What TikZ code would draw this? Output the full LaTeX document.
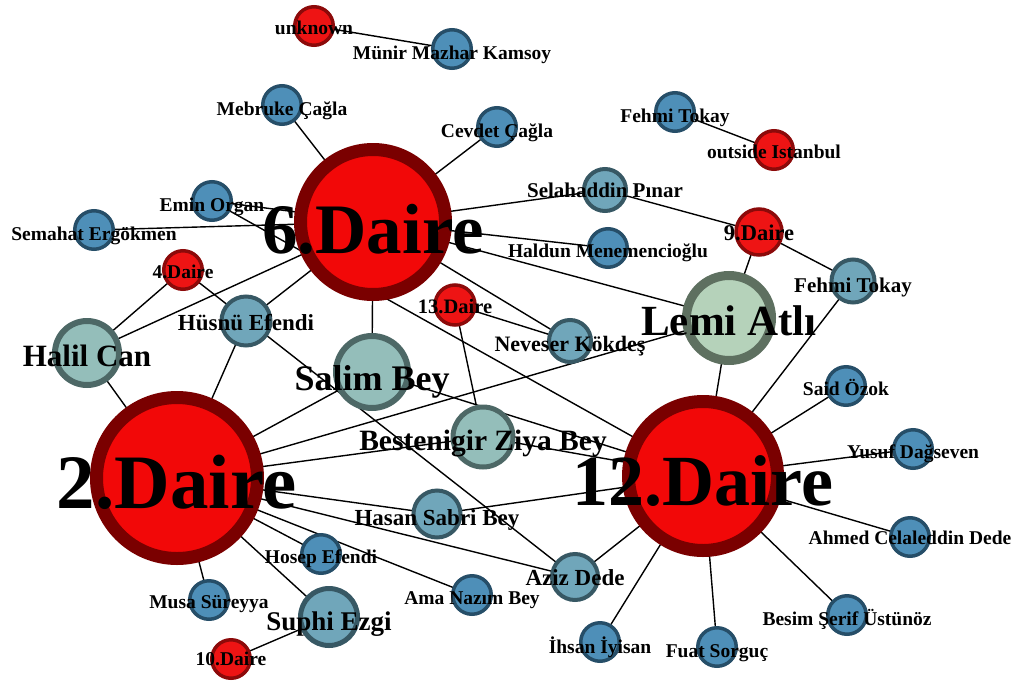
\documentclass[tikz,border=0pt]{standalone}
\usepackage{fontspec}
\setmainfont{Liberation Serif}
\usetikzlibrary{backgrounds}

\definecolor{daireFill}{RGB}{242,8,8}
\definecolor{daireRing}{RGB}{122,0,0}
\definecolor{redFill}{RGB}{238,20,20}
\definecolor{redLine}{RGB}{140,10,10}
\definecolor{blueFill}{RGB}{78,143,184}
\definecolor{blueLine}{RGB}{38,78,104}
\definecolor{tealFill}{RGB}{112,166,186}
\definecolor{tealLine}{RGB}{55,88,100}
\definecolor{paleFill}{RGB}{148,190,186}
\definecolor{paleLine}{RGB}{77,104,102}
\definecolor{lemiFill}{RGB}{181,210,186}
\definecolor{lemiLine}{RGB}{94,112,96}

\tikzset{
  bigdaire/.style={circle, inner sep=0pt, draw=daireRing, fill=daireFill, line width=13pt},
  smalldaire/.style={circle, inner sep=0pt, draw=redLine, fill=redFill, line width=3.5pt, minimum size=38.5pt},
  bluenode/.style={circle, inner sep=0pt, draw=blueLine, fill=blueFill, line width=3.5pt, minimum size=38.5pt},
  tealnode/.style={circle, inner sep=0pt, draw=tealLine, fill=tealFill, line width=4pt},
  palenode/.style={circle, inner sep=0pt, draw=paleLine, fill=paleFill, line width=6pt},
  lbl/.style={anchor=base, inner sep=0pt, font=\bfseries\fontsize{#1}{#1}\selectfont},
  lbl/.default=19.5,
  link/.style={line width=1.4pt, black}
}

\begin{document}
\begin{tikzpicture}[x=1pt, y=-1pt]
\useasboundingbox (0,0) rectangle (1019,680);

% Daire nodes
\node[bigdaire, minimum size=145pt] (d6) at (373,222) {};
\node[bigdaire, minimum size=161pt] (d2) at (177,478) {};
\node[bigdaire, minimum size=149pt] (d12) at (703,476) {};
\node[smalldaire] (unknown) at (314,26) {};
\node[smalldaire] (d4) at (183,270) {};
\node[smalldaire, minimum size=40pt] (d13) at (455,305) {};
\node[smalldaire] (d10) at (231,659) {};
\node[smalldaire] (outside) at (774,150) {};
\node[smalldaire, minimum size=46pt] (d9) at (759,232) {};

% larger persons
\node[circle, inner sep=0pt, draw=lemiLine, fill=lemiFill, line width=9pt, minimum size=85pt] (lemi) at (729,318) {};
\node[palenode, minimum size=72pt] (salim) at (372,372) {};
\node[palenode, minimum size=64pt] (halil) at (87,353) {};
\node[palenode, line width=5pt, minimum size=60pt] (bestenigir) at (483,437) {};
\node[tealnode, line width=5pt, minimum size=57pt] (suphi) at (329,617) {};
\node[tealnode, minimum size=46pt] (aziz) at (575,577) {};
\node[tealnode, minimum size=47pt] (hasan) at (437,514) {};
\node[tealnode, minimum size=49pt] (husnu) at (246,321) {};
\node[tealnode, minimum size=42pt] (neveser) at (570,341) {};
\node[tealnode, minimum size=42pt] (selahaddin) at (605,190) {};
\node[tealnode, minimum size=43pt] (fehmiR) at (853,281) {};

% small persons
\node[bluenode] (munir) at (452,49) {};
\node[bluenode] (mebruke) at (282,105) {};
\node[bluenode] (cevdet) at (497,127) {};
\node[bluenode] (emin) at (212,201) {};
\node[bluenode] (semahat) at (94,230) {};
\node[bluenode] (fehmiT) at (675,112) {};
\node[bluenode] (haldun) at (608,248) {};
\node[bluenode] (said) at (846,386) {};
\node[bluenode] (yusuf) at (913,449) {};
\node[bluenode] (ahmed) at (910,537) {};
\node[bluenode] (besim) at (847,615) {};
\node[bluenode] (fuat) at (717,647) {};
\node[bluenode] (ihsan) at (600,642) {};
\node[bluenode] (ama) at (472,595) {};
\node[bluenode] (hosep) at (321,554) {};
\node[bluenode] (musa) at (209,600) {};

% labels
\node[lbl=71] at ([yshift=-31pt]d6.center) {6.Daire};
\node[lbl=77] at ([yshift=-30pt]d2.center) {2.Daire};
\node[lbl=72] at ([yshift=-29pt]d12.center) {12.Daire};
\node[lbl=43] at ([yshift=-17pt]lemi.center) {Lemi Atlı};
\node[lbl=36] at ([yshift=-18pt]salim.center) {Salim Bey};
\node[lbl=31] at ([yshift=-13pt]halil.center) {Halil Can};
\node[lbl=29.5] at ([yshift=-13pt]bestenigir.center) {Bestenigir Ziya Bey};
\node[lbl=27] at ([yshift=-13pt]suphi.center) {Suphi Ezgi};
\node[lbl=23] at ([yshift=-8pt]aziz.center) {Aziz Dede};
\node[lbl=23] at ([yshift=-11pt]hasan.center) {Hasan Sabri Bey};
\node[lbl=23] at ([yshift=-9pt]husnu.center) {Hüsnü Efendi};
\node[lbl=22] at ([yshift=-10pt]neveser.center) {Neveser Kökdeş};
\node[lbl=21] at ([yshift=-7pt]selahaddin.center) {Selahaddin Pınar};
\node[lbl=21] at ([yshift=-11pt]fehmiR.center) {Fehmi Tokay};
\node[lbl=22.5] at ([yshift=-8pt]d9.center) {9.Daire};
\node[lbl=20.5] at ([yshift=-8pt]d13.center) {13.Daire};
\node[lbl] at ([yshift=-8pt]unknown.center) {unknown};
\node[lbl] at ([yshift=-8pt]d4.center) {4.Daire};
\node[lbl] at ([yshift=-6pt]d10.center) {10.Daire};
\node[lbl] at ([yshift=-8pt]outside.center) {outside Istanbul};
\node[lbl] at ([yshift=-10pt]munir.center) {Münir Mazhar Kamsoy};
\node[lbl] at ([yshift=-10pt]mebruke.center) {Mebruke Çağla};
\node[lbl] at ([yshift=-10pt]cevdet.center) {Cevdet Çağla};
\node[lbl] at ([yshift=-10pt]emin.center) {Emin Organ};
\node[lbl] at ([yshift=-10pt]semahat.center) {Semahat Ergökmen};
\node[lbl] at ([yshift=-10pt]fehmiT.center) {Fehmi Tokay};
\node[lbl] at ([yshift=-9pt]haldun.center) {Haldun Menemencioğlu};
\node[lbl] at ([yshift=-9pt]said.center) {Said Özok};
\node[lbl] at ([yshift=-9pt]yusuf.center) {Yusuf Dağseven};
\node[lbl] at ([yshift=-7pt]ahmed.center) {Ahmed Celaleddin Dede};
\node[lbl] at ([yshift=-10pt]besim.center) {Besim Şerif Üstünöz};
\node[lbl] at ([yshift=-10pt]fuat.center) {Fuat Sorguç};
\node[lbl] at ([yshift=-11pt]ihsan.center) {İhsan İyisan};
\node[lbl] at ([yshift=-9pt]ama.center) {Ama Nazım Bey};
\node[lbl] at ([yshift=-9pt]hosep.center) {Hosep Efendi};
\node[lbl] at ([yshift=-8pt]musa.center) {Musa Süreyya};

% connections
\begin{scope}[on background layer]
\draw[link] (unknown.center) -- (munir.center);
\draw[link] (fehmiT.center) -- (outside.center);
\draw[link] (mebruke.center) -- (d6.center);
\draw[link] (cevdet.center) -- (d6.center);
\draw[link] (emin.center) -- (d6.center);
\draw[link] (emin.center) -- (d12.center);
\draw[link] (semahat.center) -- (d6.center);
\draw[link] (halil.center) -- (d6.center);
\draw[link] (husnu.center) -- (d6.center);
\draw[link] (salim.center) -- (d6.center);
\draw[link] (selahaddin.center) -- (d6.center);
\draw[link] (haldun.center) -- (d6.center);
\draw[link] (lemi.center) -- (d6.center);
\draw[link] (neveser.center) -- (d6.center);
\draw[link] (d4.center) -- (halil.center);
\draw[link] (d4.center) -- (aziz.center);
\draw[link] (d13.center) -- (neveser.center);
\draw[link] (d13.center) -- (bestenigir.center);
\draw[link] (selahaddin.center) -- (d9.center);
\draw[link] (d9.center) -- (lemi.center);
\draw[link] (d9.center) -- (fehmiR.center);
\draw[link] (halil.center) -- (d2.center);
\draw[link] (husnu.center) -- (d2.center);
\draw[link] (salim.center) -- (d2.center);
\draw[link] (lemi.center) -- (d2.center);
\draw[link] (bestenigir.center) -- (d2.center);
\draw[link] (hasan.center) -- (d2.center);
\draw[link] (aziz.center) -- (d2.center);
\draw[link] (hosep.center) -- (d2.center);
\draw[link] (ama.center) -- (d2.center);
\draw[link] (suphi.center) -- (d2.center);
\draw[link] (musa.center) -- (d2.center);
\draw[link] (suphi.center) -- (d10.center);
\draw[link] (lemi.center) -- (d12.center);
\draw[link] (fehmiR.center) -- (d12.center);
\draw[link] (said.center) -- (d12.center);
\draw[link] (yusuf.center) -- (d12.center);
\draw[link] (ahmed.center) -- (d12.center);
\draw[link] (besim.center) -- (d12.center);
\draw[link] (fuat.center) -- (d12.center);
\draw[link] (ihsan.center) -- (d12.center);
\draw[link] (aziz.center) -- (d12.center);
\draw[link] (hasan.center) -- (d12.center);
\draw[link] (bestenigir.center) -- (d12.center);
\draw[link] (salim.center) -- (d12.center);
\end{scope}
\end{tikzpicture}
\end{document}
